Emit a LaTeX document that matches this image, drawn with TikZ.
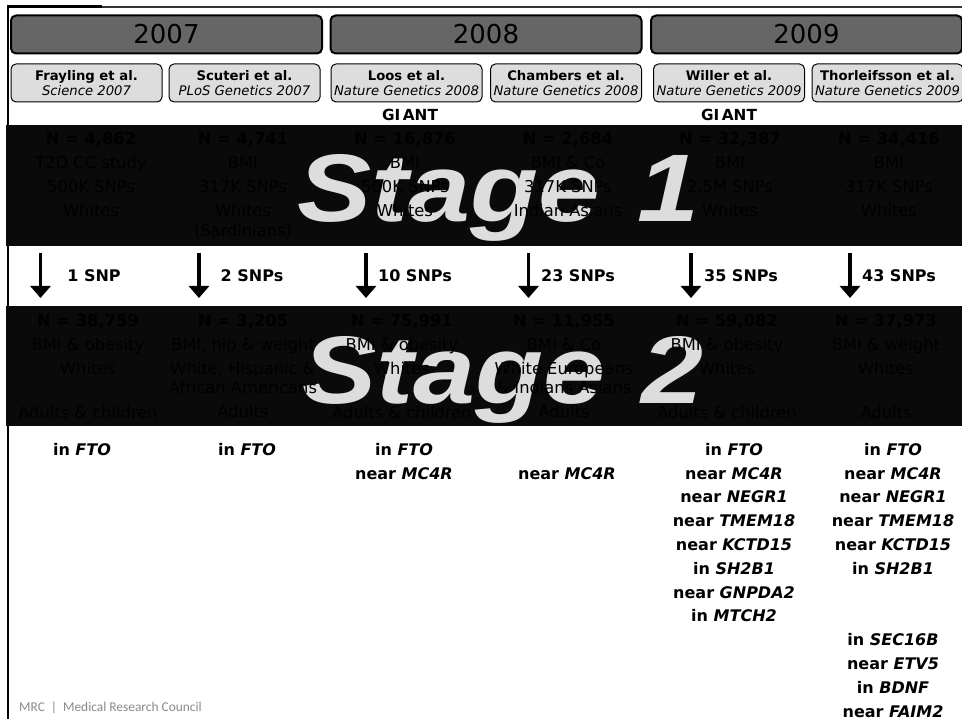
\documentclass[tikz,border=0pt]{standalone}
\usepackage{fontspec}
\setmainfont{DejaVu Sans}
\newfontfamily\stagefont{Liberation Sans}
\newfontfamily\mrcfont{Carlito}
\usetikzlibrary{arrows.meta,positioning}
\definecolor{band}{HTML}{0A0A0A}
\definecolor{yearfill}{HTML}{666666}
\definecolor{paperfill}{HTML}{DDDDDD}
\definecolor{mrcgray}{HTML}{8A8A8A}
\begin{document}
\begin{tikzpicture}[x=1pt,y=1pt,
      year/.style={draw=black,fill=yearfill,rounded corners=5pt,line width=2pt,minimum width=311pt,
                   minimum height=38pt,inner sep=0pt,font=\fontsize{26}{30}\selectfont},
      paper/.style={draw=black,fill=paperfill,rounded corners=5pt,line width=1pt,minimum width=151pt,
                    minimum height=38pt,inner sep=0pt,align=center,font=\fontsize{13.2}{15.5}\selectfont},
      giant/.style={font=\fontsize{15.3}{17}\selectfont\bfseries,inner sep=0pt},
      cohort/.style={anchor=north,align=center,inner sep=0pt,text=black,font=\fontsize{16.3}{24}\selectfont},
      stage/.style={font=\fontsize{96}{110}\stagefont\bfseries\itshape,text=paperfill,inner sep=0pt,anchor=base,xscale=1.16},
      flow/.style={-{Triangle[width=20pt,length=12pt]},line width=3.2pt,draw=black},
      snps/.style={font=\fontsize{16}{18}\selectfont\bfseries,inner sep=0pt},
      locus/.style={anchor=north,align=center,inner sep=0pt,font=\fontsize{16}{23.8}\selectfont\bfseries}]
    \useasboundingbox (0,0) rectangle (962,-719);
    \fill[white] (0,0) rectangle (962,-719);
    % frame
    \draw[line width=1.5pt,draw=black!80] (7,-7) -- (962,-7);
    \draw[line width=2.5pt] (7,-6.5) -- (102,-6.5);
    \draw[line width=2.6pt] (8,-6) -- (8,-719);
    % years
    \node[year] (y2007) at (166.5,-34.5) {2007};
    \node[year] (y2008) at (486,-34.5) {2008};
    \node[year] (y2009) at (806.5,-34.5) {2009};
    % papers
    \node[paper] (frayling) at (86.5,-83) {\textbf{Frayling et al.}\\\textit{Science 2007}};
    \node[paper] (scuteri) at (244.5,-83) {\textbf{Scuteri et al.}\\\textit{PLoS Genetics 2007}};
    \node[paper] (loos) at (406.5,-83) {\textbf{Loos et al.}\\\textit{Nature Genetics 2008}};
    \node[paper] (chambers) at (566,-83) {\textbf{Chambers et al.}\\\textit{Nature Genetics 2008}};
    \node[paper] (willer) at (729,-83) {\textbf{Willer et al.}\\\textit{Nature Genetics 2009}};
    \node[paper] (thorleifsson) at (887.5,-83) {\textbf{Thorleifsson et al.}\\\textit{Nature Genetics 2009}};
    \node[giant] (giant1) at (410,-114.5) {GI\,ANT};
    \node[giant] (giant2) at (729,-114.5) {GI\,ANT};
    % stage 1
    \fill[band] (6,-125) rectangle (962,-246);
    \node[stage] (stage1) at (498.5,-222) {Stage\hspace{5pt} 1};
    \node[cohort] (s1a) at (91,-132.5) {\textbf{N = 4,862}\\T2D CC study\\500K SNPs\\Whites};
    \node[cohort] (s1b) at (243,-132.5) {\textbf{N = 4,741}\\BMI\\317K SNPs\\Whites\\[-4pt](Sardinians)};
    \node[cohort] (s1c) at (405,-132.5) {\textbf{N = 16,876}\\BMI\\500K SNPs\\Whites};
    \node[cohort] (s1d) at (568,-132.5) {\textbf{N = 2,684}\\BMI \& Co\\317K SNPs\\Indian Asians};
    \node[cohort] (s1e) at (730,-132.5) {\textbf{N = 32,387}\\BMI\\2.5M SNPs\\Whites};
    \node[cohort] (s1f) at (889,-132.5) {\textbf{N = 34,416}\\BMI\\317K SNPs\\Whites};
    % arrows
    \coordinate (a1) at (40.5,-253);   \coordinate (b1) at (40.5,-298);
    \coordinate (a2) at (199,-253);  \coordinate (b2) at (199,-298);
    \coordinate (a3) at (366,-253);  \coordinate (b3) at (366,-298);
    \coordinate (a4) at (528.5,-253);  \coordinate (b4) at (528.5,-298);
    \coordinate (a5) at (691,-253);  \coordinate (b5) at (691,-298);
    \coordinate (a6) at (850,-253);  \coordinate (b6) at (850,-298);
    \draw[flow] (a1) -- (b1);
    \draw[flow] (a2) -- (b2);
    \draw[flow] (a3) -- (b3);
    \draw[flow] (a4) -- (b4);
    \draw[flow] (a5) -- (b5);
    \draw[flow] (a6) -- (b6);
    \node[snps] (n1) at (94,-276) {1 SNP};
    \node[snps] (n2) at (252,-276) {2 SNPs};
    \node[snps] (n3) at (415,-276) {10 SNPs};
    \node[snps] (n4) at (578,-276) {23 SNPs};
    \node[snps] (n5) at (741,-276) {35 SNPs};
    \node[snps] (n6) at (899,-276) {43 SNPs};
    % stage 2
    \fill[band] (6,-306) rectangle (962,-426);
    \node[stage] (stage2) at (503,-404) {Stage\hspace{5pt} 2};
    \node[cohort] (s2a) at (88,-314.5) {\textbf{N = 38,759}\\BMI \& obesity\\Whites\\[20pt]Adults \& children};
    \node[cohort] (s2b) at (243,-314.5) {\textbf{N = 3,205}\\BMI, hip \& weight\\White, Hispanic \&\\[-5pt]African Americans\\Adults};
    \node[cohort] (s2c) at (402,-314.5) {\textbf{N = 75,991}\\BMI \& obesity\\Whites\\[20pt]Adults \& children};
    \node[cohort] (s2d) at (564,-314.5) {\textbf{N = 11,955}\\BMI \& Co\\White Europeans\\[-5pt]\& Indians Asians\\Adults};
    \node[cohort] (s2e) at (727,-314.5) {\textbf{N = 59,082}\\BMI \& obesity\\Whites\\[20pt]Adults \& children};
    \node[cohort] (s2f) at (886,-314.5) {\textbf{N = 37,973}\\BMI \& weight\\Whites\\[20pt]Adults};
    % loci
    \node[locus] (l1) at (82,-443) {in \textit{FTO}};
    \node[locus] (l2) at (247,-443) {in \textit{FTO}};
    \node[locus] (l3) at (404,-443) {in \textit{FTO}\\near \textit{MC4R}};
    \node[locus] (l4) at (567,-467) {near \textit{MC4R}};
    \node[locus] (l5) at (734,-443) {in \textit{FTO}\\near \textit{MC4R}\\near \textit{NEGR1}\\near \textit{TMEM18}\\near \textit{KCTD15}\\in \textit{SH2B1}\\near \textit{GNPDA2}\\in \textit{MTCH2}};
    \node[locus] (l6) at (893,-443) {in \textit{FTO}\\near \textit{MC4R}\\near \textit{NEGR1}\\near \textit{TMEM18}\\near \textit{KCTD15}\\in \textit{SH2B1}\\[47.6pt]in \textit{SEC16B}\\near \textit{ETV5}\\in \textit{BDNF}\\near \textit{FAIM2}};
    \node[anchor=base west,inner sep=0pt,text=mrcgray,font=\fontsize{13.4}{15}\mrcfont] (mrc) at (19,-711) {MRC\hspace{6pt}|\hspace{6pt}Medical Research Council};
    \end{tikzpicture}
\end{document}
